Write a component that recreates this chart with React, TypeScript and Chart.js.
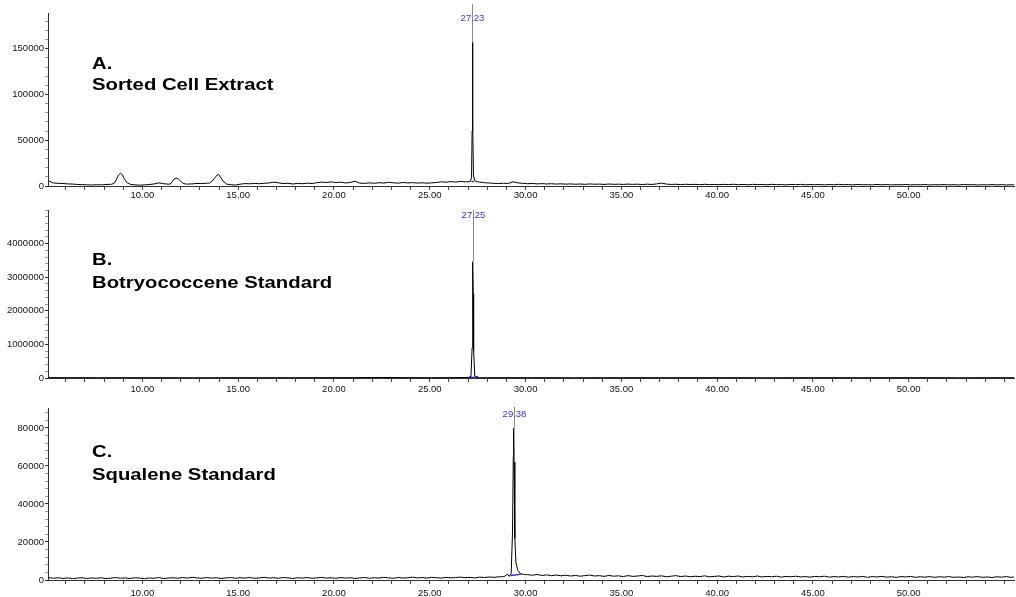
import { useEffect, useRef } from "react";
import { Chart, registerables } from "chart.js";

Chart.register(...registerables);

// Retention-time axis, minutes
const TIME_MIN = 5.07;
const TIME_MAX = 55.5;
const timeTickLabels = ["10.00", "15.00", "20.00", "25.00", "30.00", "35.00", "40.00", "45.00", "50.00"];

// ---------- A. Sorted cell extract (abundance, sampled every 0.25 min from 5.10 min) ----------
const sortedStart = 5.1;
const sortedStep = 0.25;
const sortedSignal = [
  5600, 3300, 2900, 2700, 2300, 2100, 1700, 1500, 1300, 1100,
  1400, 1200, 1600, 1900, 1900, 1900, 1900, 1900, 1300, 900,
  1200, 1600, 2200, 3400, 2500, 2000, 2000, 2000, 2000, 2100,
  2300, 2800, 2600, 3000, 3000, 3000, 3000, 3000, 1500, 1000,
  2000, 2600, 2400, 2800, 2500, 3000, 3300, 4200, 3500, 2600,
  3000, 2200, 2800, 2500, 3100, 2700, 3600, 4300, 3800, 4500,
  3700, 4200, 3300, 3900, 5200, 3100, 2900, 3400, 3000, 3600,
  3200, 4000, 3500, 3100, 3800, 3300, 3700, 3200, 3500, 3100,
  3400, 3900, 4600, 4100, 4800, 4300, 5000, 4500, 4500, 4500,
  4300, 3600, 3300, 2900, 2700, 3000, 2800, 4600, 3400, 2900,
  2500, 2800, 2300, 2600, 2200, 2500, 2100, 2400, 2000, 2300,
  1900, 2200, 1800, 2300, 1900, 2100, 1700, 2200, 1800, 2000,
  1700, 2100, 1800, 2000, 1600, 2000, 1700, 2300, 3200, 2100,
  1700, 1900, 1500, 1900, 1600, 1800, 1400, 1900, 1500, 1700,
  1400, 1800, 1500, 1900, 1400, 1700, 1300, 1800, 1500, 1700,
  1300, 1800, 1400, 1600, 1200, 1700, 1400, 1800, 1300, 1600,
  1400, 1700, 1200, 1600, 1300, 1800, 1400, 1600, 1200, 1700,
  1300, 1500, 1200, 1700, 1300, 1600, 1200, 1500, 1300, 1700,
  1200, 1500, 1300, 1600, 1100, 1500, 1300, 1600, 1200, 1500,
  1100, 1600, 1300, 1500, 1100, 1400, 1200, 1600, 1200, 1500,
  1100, 1400, 1200,
];
// finer sampling across the peaks
const sortedPeak9Time = [8.4, 8.55, 8.65, 8.75, 8.85, 8.95, 9.05, 9.2, 9.4];
const sortedPeak9Value = [1900, 3500, 7500, 12000, 14000, 12500, 8000, 3500, 1600];
const sortedPeak12Time = [11.45, 11.55, 11.65, 11.75, 11.85, 11.95, 12.1, 12.25];
const sortedPeak12Value = [2100, 4500, 7500, 8600, 8200, 6000, 3200, 2100];
const sortedPeak14Time = [13.5, 13.65, 13.8, 13.9, 13.97, 14.05, 14.2, 14.4];
const sortedPeak14Value = [3100, 5500, 9500, 12000, 12800, 10500, 5500, 2000];
const sortedPeak27Time = [27.0, 27.12, 27.18, 27.21, 27.23, 27.25, 27.28, 27.35, 27.5];
const sortedPeak27Value = [4700, 5200, 9000, 60000, 157000, 70000, 12000, 5500, 4500];
const sortedIntegTime = [27.17, 27.3];
const sortedIntegValue = [4800, 4800];
const sortedYLabels = ["0", "50000", "100000", "150000"];

// ---------- B. Botryococcene standard (sampled every 2.5 min) ----------
const botryStart = 5.1;
const botryStep = 2.5;
const botrySignal = [
  12000, 9000, 11000, 8000, 10000, 9000, 12000, 14000, 10000, 9000,
  11000, 8000, 10000, 9000, 11000, 8000, 10000, 9000, 11000, 8000,
  10000, 9000,
];
const botryPeakTime = [27.0, 27.15, 27.21, 27.23, 27.25, 27.27, 27.29, 27.35, 27.55];
const botryPeakValue = [15000, 40000, 900000, 2600000, 3460000, 2500000, 800000, 60000, 12000];
const botryIntegTime = [27.05, 27.55];
const botryIntegValue = [18000, 18000];
const botryYLabels = ["0", "1000000", "2000000", "3000000", "4000000"];

// ---------- C. Squalene standard (sampled every 0.25 min from 5.10 min) ----------
const squaleneStart = 5.1;
const squaleneStep = 0.25;
const squaleneSignal = [
  1300, 900, 1200, 800, 1100, 700, 1000, 1200, 800, 1100,
  900, 1200, 700, 1000, 1300, 900, 1100, 800, 1200, 1000,
  700, 1100, 900, 1300, 800, 1000, 1200, 900, 1300, 1000,
  1400, 1100, 900, 1300, 1000, 1200, 800, 1100, 1300, 900,
  1200, 1000, 1300, 900, 1100, 1400, 1000, 1200, 900, 1300,
  1100, 800, 1200, 1000, 1300, 900, 1100, 1400, 1000, 1200,
  900, 1300, 1000, 1200, 800, 1100, 1300, 900, 1200, 1000,
  1400, 1100, 900, 1300, 1000, 1200, 1500, 1100, 1300, 1000,
  1400, 1200, 1000, 1400, 1100, 1300, 1500, 1200, 1400, 1100,
  1500, 1300, 1600, 1400, 1700, 1700, 1700, 1700, 1700, 1700,
  2800, 2500, 2900, 2400, 2700, 2300, 2600, 2200, 2500, 2100,
  2400, 2000, 2300, 2600, 2100, 2300, 1900, 2400, 2000, 2200,
  1800, 2300, 1900, 2100, 2400, 1800, 2100, 1900, 2200, 1700,
  2000, 2300, 1800, 2100, 1700, 2000, 1800, 2200, 1700, 1900,
  2100, 1600, 2000, 1800, 2100, 1600, 1900, 1700, 2100, 1600,
  1900, 1700, 2000, 1500, 1900, 1700, 2000, 1600, 1800, 1500,
  1900, 1700, 2000, 1500, 1800, 1600, 1900, 1500, 1800, 1600,
  1900, 1400, 1800, 1600, 1900, 1500, 1700, 1400, 1800, 1600,
  1900, 1400, 1700, 1500, 1800, 1400, 1700, 1500, 1800, 1400,
  1600, 1300, 1700, 1500, 1800, 1400, 1600, 1300, 1700, 1500,
  1800, 1400, 1600,
];
const squalenePeakTime = [28.8, 28.95, 29.05, 29.15, 29.25, 29.32, 29.36, 29.38, 29.4, 29.44, 29.5, 29.6, 29.75, 29.95];
const squalenePeakValue = [1700, 2100, 3200, 1900, 3500, 25000, 65000, 80000, 62000, 22000, 9000, 5000, 3200, 2900];
const squaleneIntegTime = [29.22, 29.75];
const squaleneIntegValue = [2400, 3000];
const squaleneYLabels = ["0", "20000", "40000", "60000", "80000"];

type Pt = { x: number; y: number };
type Segment = { t: number[]; v: number[] };

// Regular samples, with finely sampled peak segments replacing the coarse points they span
function buildTrace(start: number, step: number, values: number[], segments: Segment[]): Pt[] {
  const pts: Pt[] = [];
  values.forEach((v, i) => {
    const t = start + i * step;
    if (segments.some((s) => t > s.t[0] && t < s.t[s.t.length - 1])) return;
    pts.push({ x: t, y: v });
  });
  segments.forEach((s) => s.t.forEach((t, k) => pts.push({ x: t, y: s.v[k] })));
  pts.sort((a, b) => a.x - b.x);
  return pts;
}

const toPts = (t: number[], v: number[]): Pt[] => t.map((x, i) => ({ x, y: v[i] }));

// evenly spaced tick positions (minor marks, some of them labelled)
function tickValues(from: number, to: number, step: number): { value: number }[] {
  const out: { value: number }[] = [];
  const first = Math.ceil(from / step - 1e-9);
  for (let k = first; k * step <= to + 1e-9; k++) out.push({ value: k * step });
  return out;
}

type Peak = { rt: number; apex: number };

type Panel = {
  top: number;
  height: number;
  padTop: number;
  axisH: number;
  tickPad: number;
  yMax: number;
  yMinor: number;
  yLabels: string[];
  title: string[];
  titleY: number[];
  labelDy: number;
  markerTop: number;
  trace: Pt[];
  integ: Pt[];
  peaks: Peak[];
};

const panels: Panel[] = [
  {
    top: 0, height: 199, padTop: 13, axisH: 13, tickPad: 0,
    yMax: 189000, yMinor: 10000, yLabels: sortedYLabels,
    title: ["A.", "Sorted Cell Extract"], titleY: [56, 76.5],
    labelDy: 5, markerTop: -9,
    trace: buildTrace(sortedStart, sortedStep, sortedSignal, [
      { t: sortedPeak9Time, v: sortedPeak9Value },
      { t: sortedPeak12Time, v: sortedPeak12Value },
      { t: sortedPeak14Time, v: sortedPeak14Value },
      { t: sortedPeak27Time, v: sortedPeak27Value },
    ]),
    integ: toPts(sortedIntegTime, sortedIntegValue),
    peaks: [{ rt: 27.23, apex: 157000 }],
  },
  {
    top: 199, height: 199, padTop: 11, axisH: 20, tickPad: 2,
    yMax: 5000000, yMinor: 200000, yLabels: botryYLabels,
    title: ["B.", "Botryococcene Standard"], titleY: [55, 78],
    labelDy: 5, markerTop: 0,
    trace: buildTrace(botryStart, botryStep, botrySignal, [{ t: botryPeakTime, v: botryPeakValue }]),
    integ: toPts(botryIntegTime, botryIntegValue),
    peaks: [{ rt: 27.25, apex: 3460000 }],
  },
  {
    top: 398, height: 199, padTop: 10, axisH: 17, tickPad: 4,
    yMax: 90500, yMinor: 4000, yLabels: squaleneYLabels,
    title: ["C.", "Squalene Standard"], titleY: [49, 72],
    labelDy: 6, markerTop: -1,
    trace: buildTrace(squaleneStart, squaleneStep, squaleneSignal, [{ t: squalenePeakTime, v: squalenePeakValue }]),
    integ: toPts(squaleneIntegTime, squaleneIntegValue),
    peaks: [{ rt: 29.38, apex: 80000 }],
  },
];

const W = 1016;
const TICK_FONT = "'Liberation Sans', Arial, sans-serif";

function labelFor(value: number, labels: string[], digits: number): string {
  const s = digits > 0 ? value.toFixed(digits) : String(Math.round(value));
  return labels.includes(s) ? s : "";
}

function ChromPanel({ panel }: { panel: Panel }) {
  const ref = useRef<HTMLCanvasElement>(null);

  useEffect(() => {
    const canvas = ref.current;
    if (!canvas) return;

    const overlay = {
      id: "peakOverlay",
      afterDatasetsDraw(chart: any) {
        const { ctx, chartArea, scales } = chart;
        const xs = scales.x;
        const ys = scales.y;
        ctx.save();
        // retention-time markers and labels
        panel.peaks.forEach((p) => {
          const x = Math.round(xs.getPixelForValue(p.rt)) + 0.5;
          ctx.strokeStyle = "#8a8a8a";
          ctx.lineWidth = 1;
          ctx.beginPath();
          ctx.moveTo(x, ys.getPixelForValue(p.apex));
          ctx.lineTo(x, chartArea.top + panel.markerTop);
          ctx.stroke();
          ctx.fillStyle = "#3434c8";
          ctx.font = `9.5px ${TICK_FONT}`;
          ctx.textAlign = "center";
          ctx.textBaseline = "middle";
          ctx.fillText(p.rt.toFixed(2), x, chartArea.top + panel.labelDy);
        });
        // sample title, drawn slightly widened
        ctx.fillStyle = "#000";
        ctx.font = "bold 16.5px 'Liberation Sans', Arial, sans-serif";
        ctx.textAlign = "left";
        ctx.textBaseline = "alphabetic";
        panel.title.forEach((line, i) => {
          ctx.save();
          ctx.translate(92, chartArea.top + panel.titleY[i]);
          ctx.scale(1.23, 1);
          ctx.fillText(line, 0, 0);
          ctx.restore();
        });
        ctx.restore();
      },
    };

    const chart = new Chart(canvas, {
      type: "line",
      data: {
        datasets: [
          {
            data: panel.trace,
            borderColor: "#000",
            borderWidth: 1,
            pointRadius: 0,
            tension: 0,
            clip: { left: 0, right: 0, top: 12, bottom: 2 } as any,
          },
          {
            data: panel.integ,
            borderColor: "#3434c8",
            borderWidth: 1.5,
            pointRadius: 0,
            tension: 0,
          },
        ],
      },
      options: {
        animation: false,
        responsive: false,
        devicePixelRatio: 1,
        events: [],
        layout: { padding: { top: panel.padTop, right: 2, left: 0, bottom: 0 } },
        plugins: { legend: { display: false }, tooltip: { enabled: false }, title: { display: false } },
        scales: {
          x: {
            type: "linear",
            min: TIME_MIN,
            max: TIME_MAX,
            afterBuildTicks: (s: any) => {
              s.ticks = tickValues(TIME_MIN, TIME_MAX, 1);
            },
            afterFit: (s: any) => {
              s.height = panel.axisH;
            },
            ticks: {
              autoSkip: false,
              maxRotation: 0,
              padding: panel.tickPad,
              color: "#111",
              font: { family: TICK_FONT, size: 9.5 },
              callback: (v: any) => labelFor(Number(v), timeTickLabels, 2),
            },
            grid: { display: true, drawOnChartArea: false, drawTicks: true, tickLength: 4, tickColor: "#444" },
            border: { display: true, color: "#333", width: 1 },
          },
          y: {
            type: "linear",
            min: 0,
            max: panel.yMax,
            afterBuildTicks: (s: any) => {
              s.ticks = tickValues(0, panel.yMax, panel.yMinor);
            },
            afterFit: (s: any) => {
              s.width = 48;
            },
            ticks: {
              autoSkip: false,
              padding: 1,
              color: "#111",
              font: { family: TICK_FONT, size: 9.5 },
              callback: (v: any) => labelFor(Number(v), panel.yLabels, 0),
            },
            grid: {
              display: true,
              drawOnChartArea: false,
              drawTicks: true,
              tickLength: 3,
              tickColor: (c: any) =>
                c.tick && panel.yLabels.includes(String(Math.round(c.tick.value))) ? "#333" : "#9a9a9a",
            },
            border: { display: true, color: "#333", width: 1 },
          },
        },
      },
      plugins: [overlay],
    } as any);

    return () => chart.destroy();
  }, [panel]);

  return (
    <canvas
      ref={ref}
      width={W}
      height={panel.height}
      style={{ position: "absolute", left: 0, top: panel.top, width: W, height: panel.height, display: "block" }}
    />
  );
}

export default function App() {
  return (
    <div style={{ position: "absolute", left: 0, top: 0, width: W, height: 597, background: "#fff" }}>
      {panels.map((p, i) => (
        <ChromPanel key={i} panel={p} />
      ))}
    </div>
  );
}
